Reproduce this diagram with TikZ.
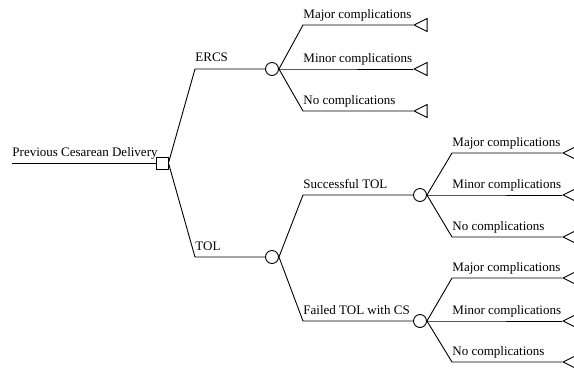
\documentclass[tikz,border=0pt]{standalone}
\usepackage{fontspec}
\setmainfont{Liberation Serif}
\usetikzlibrary{shapes.geometric}
\begin{document}
\begin{tikzpicture}[x=1pt,y=-1pt,
  line width=0.9pt,
  every node/.style={font=\fontsize{13}{15}\selectfont},
  decision/.style={draw,rectangle,minimum size=12pt,inner sep=0pt,line width=0.9pt},
  chance/.style={draw,circle,minimum size=13pt,inner sep=0pt,line width=0.9pt},
  terminal/.style={draw,isosceles triangle,isosceles triangle stretches,shape border rotate=180,minimum height=13pt,minimum width=13pt,inner sep=0pt,anchor=apex,line width=0.9pt},
  lbl/.style={anchor=base west,inner sep=0pt}]
\useasboundingbox (0,0) rectangle (574,368);
% nodes
\coordinate (root) at (12,163);
\node[decision] (d) at (162,163) {};
\node[chance] (cE) at (272,69) {};
\node[chance] (cT) at (272,257) {};
\node[chance] (cS) at (420,195) {};
\node[chance] (cF) at (420,321) {};
% elbows
\coordinate (eE) at (195,69);
\coordinate (eT) at (195,257);
\coordinate (eS) at (303,195);
\coordinate (eF) at (303,321);
\coordinate (eE1) at (303,25);
\coordinate (eE2) at (303,69);
\coordinate (eE3) at (303,111);
\coordinate (eS1) at (452,153);
\coordinate (eS2) at (452,195);
\coordinate (eS3) at (452,237);
\coordinate (eF1) at (452,278);
\coordinate (eF2) at (452,321);
\coordinate (eF3) at (452,362);
% terminals
\node[terminal] (tE1) at (413,25) {};
\node[terminal] (tE2) at (413,69) {};
\node[terminal] (tE3) at (413,111) {};
\node[terminal] (tS1) at (562,153) {};
\node[terminal] (tS2) at (562,195) {};
\node[terminal] (tS3) at (562,237) {};
\node[terminal] (tF1) at (562,278) {};
\node[terminal] (tF2) at (562,321) {};
\node[terminal] (tF3) at (562,362) {};
% connectors
\draw (root) -- (d.west);
\draw (d.east) -- (eE) -- (cE.west);
\draw (d.east) -- (eT) -- (cT.west);
\draw (cE.east) -- (eE1) -- (tE1.apex);
\draw (cE.east) -- (eE2) -- (tE2.apex);
\draw (cE.east) -- (eE3) -- (tE3.apex);
\draw (cT.east) -- (eS) -- (cS.west);
\draw (cT.east) -- (eF) -- (cF.west);
\draw (cS.east) -- (eS1) -- (tS1.apex);
\draw (cS.east) -- (eS2) -- (tS2.apex);
\draw (cS.east) -- (eS3) -- (tS3.apex);
\draw (cF.east) -- (eF1) -- (tF1.apex);
\draw (cF.east) -- (eF2) -- (tF2.apex);
\draw (cF.east) -- (eF3) -- (tF3.apex);
% labels
\node[lbl] (lroot) at (12,156) {Previous Cesarean Delivery};
\node[lbl] (lE) at (195,61) {ERCS};
\node[lbl] (lT) at (195,250) {TOL};
\node[lbl] (lE1) at (303,18) {Major complications};
\node[lbl] (lE2) at (303,62) {Minor complications};
\node[lbl] (lE3) at (303,104) {No complications};
\node[lbl] (lS) at (303,188) {Successful TOL};
\node[lbl] (lF) at (303,314) {Failed TOL with CS};
\node[lbl] (lS1) at (452,146) {Major complications};
\node[lbl] (lS2) at (452,188) {Minor complications};
\node[lbl] (lS3) at (452,230) {No complications};
\node[lbl] (lF1) at (452,271) {Major complications};
\node[lbl] (lF2) at (452,314) {Minor complications};
\node[lbl] (lF3) at (452,355) {No complications};
\end{tikzpicture}
\end{document}
